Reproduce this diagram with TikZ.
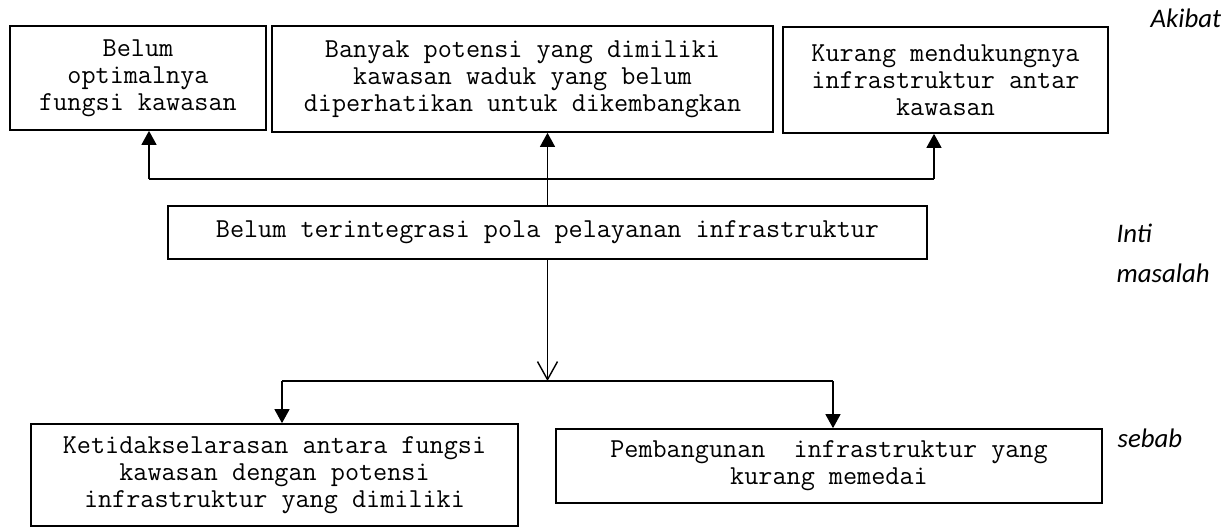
\documentclass[tikz,border=0pt]{standalone}
\usepackage{fontspec}
\setmainfont{Carlito}
\usepackage{tikz}
\usetikzlibrary{arrows.meta,positioning}
\tikzset{every picture/.style={line width=0.7pt}}
\tikzstyle{kotak}=[draw,rectangle,line width=0.85pt,align=center,inner sep=0pt,font=\ttfamily\fontsize{13.7}{13.5}\selectfont]
\tikzstyle{ket}=[anchor=west,align=left,inner sep=0pt,font=\itshape\fontsize{13.4}{20}\selectfont]

\begin{document}
\begin{tikzpicture}[x=0.5pt,y=-0.5pt,>={Triangle[width=7.5pt,length=7pt]}]
\useasboundingbox (0,0) rectangle (1223,527);
% akibat
\node[kotak,minimum width=128pt,minimum height=52pt] (A) at (138,78) {Belum\\optimalnya\\fungsi kawasan};
\node[kotak,minimum width=250.5pt,minimum height=53pt] (B) at (522.5,79) {Banyak potensi yang dimiliki\\kawasan waduk yang belum\\diperhatikan untuk dikembangkan};
\node[kotak,minimum width=162.5pt,minimum height=53pt] (C) at (945.5,80) {Kurang mendukungnya\\infrastruktur antar\\kawasan};
% inti masalah
\node[kotak,minimum width=379.5pt,minimum height=26.5pt] (D) at (547.5,232.5) {Belum terintegrasi pola pelayanan infrastruktur};
% sebab
\node[kotak,minimum width=243.5pt,minimum height=51pt] (E) at (274.5,475) {Ketidakselarasan antara fungsi\\kawasan dengan potensi\\infrastruktur yang dimiliki};
\node[kotak,minimum width=273pt,minimum height=37pt] (F) at (829,466) {Pembangunan\ \ infrastruktur yang\\kurang memedai};
\node[ket] (akibat) at (1150,18) {Akibat};
\node[ket] (inti) at (1116,253) {Inti\\masalah};
\node[ket] (sebab) at (1117,438) {sebab};
\coordinate (kiri) at (149,179);
\coordinate (kanan) at (934,179);
\coordinate (bkiri) at (282,381);
\coordinate (bkanan) at (833,381);
\draw (kiri) -- (kanan);
\path[->]
(kiri) edge (kiri |- A.south)
(D.north) edge (D.north |- B.south)
(kanan) edge (kanan |- C.south);
\draw[-{Straight Barb[width=10pt,length=9pt]}] (D.south) -- (D.south |- bkiri);
\draw (bkiri) -- (bkanan);
\path[->]
(bkiri) edge (bkiri |- E.north)
(bkanan) edge (bkanan |- F.north);
\end{tikzpicture}
\end{document}
